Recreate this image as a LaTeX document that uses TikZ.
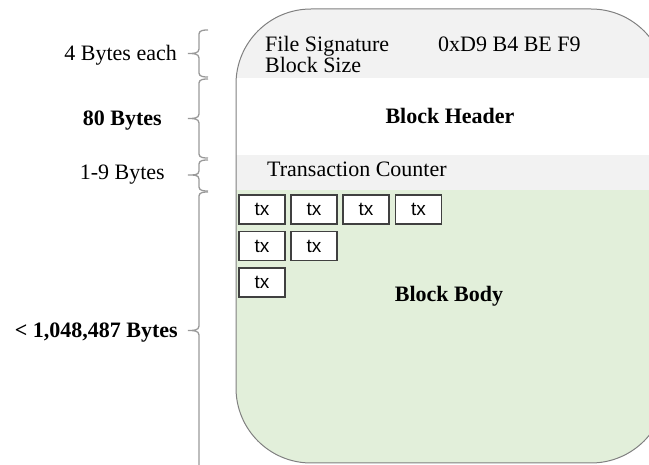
\documentclass[tikz,border=0pt]{standalone}
\usepackage{fontspec}
\setmainfont{Liberation Serif}
\newfontfamily\txfont{Liberation Sans}
\definecolor{bandgrey}{HTML}{F2F2F2}
\definecolor{bodygreen}{HTML}{E2EFDA}
\definecolor{outline}{HTML}{808080}
\definecolor{bracegrey}{HTML}{999999}
\definecolor{txborder}{HTML}{404040}
\begin{document}
\begin{tikzpicture}[x=1pt,y=-1pt,
  lbl/.style={inner sep=0pt,font=\fontsize{22}{26}\selectfont},
  blbl/.style={inner sep=0pt,font=\fontsize{22}{26}\selectfont\bfseries},
  txbox/.style={draw=txborder,fill=white,line width=1.2pt,minimum width=46pt,minimum height=29pt,inner sep=0pt,font=\txfont\fontsize{19}{22}\selectfont},
  bracepath/.style={draw=bracegrey,line width=1.3pt}]
\useasboundingbox (0,0) rectangle (649,465);
% block shape with bands
\begin{scope}
  \clip[rounded corners=75pt] (236,9) rectangle (666,463);
  \fill[bandgrey] (230,0) rectangle (670,78);
  \fill[white] (230,78) rectangle (670,155);
  \fill[bandgrey] (230,155) rectangle (670,190);
  \fill[bodygreen] (230,190) rectangle (670,470);
\end{scope}
\draw[outline,line width=1pt,rounded corners=75pt] (236,9) rectangle (666,463);
% texts inside
\node[lbl,anchor=base west] (fsig) at (265,52) {File Signature};
\node[lbl,anchor=base west] (magic) at (438,52) {0xD9 B4 BE F9};
\node[lbl,anchor=base west] (bsize) at (265,73) {Block Size};
\node[blbl,anchor=base] (bheader) at (450,124) {Block Header};
\node[lbl,anchor=base west] (tcount) at (267,177) {Transaction Counter};
\node[blbl,anchor=base] (bbody) at (449,302) {Block Body};
% tx boxes
\node[txbox] (tx11) at (262,209.5) {tx};
\node[txbox] (tx12) at (314,209.5) {tx};
\node[txbox] (tx13) at (366,209.5) {tx};
\node[txbox] (tx14) at (418.5,209.5) {tx};
\node[txbox] (tx21) at (262,246) {tx};
\node[txbox] (tx22) at (314,246) {tx};
\node[txbox] (tx31) at (262,282.5) {tx};
% braces
\draw[bracepath] (208,30) to[out=180,in=90] (199,34) -- (199,49) to[out=-90,in=0] (188,53.5)
  to[out=0,in=90] (199,58) -- (199,73) to[out=-90,in=180] (208,77);
\draw[bracepath] (208,79) to[out=180,in=90] (199,83) -- (199,114) to[out=-90,in=0] (188,118.5)
  to[out=0,in=90] (199,123) -- (199,154) to[out=-90,in=180] (208,158);
\draw[bracepath] (208,160) to[out=180,in=90] (199,164) -- (199,171) to[out=-90,in=0] (188,175)
  to[out=0,in=90] (199,179) -- (199,187) to[out=-90,in=180] (208,191);
\draw[bracepath] (208,192) to[out=180,in=90] (199,196) -- (199,326) to[out=-90,in=0] (188,330.5)
  to[out=0,in=90] (199,335) -- (199,466);
% left labels
\node[lbl,anchor=base east] (l1) at (177,61) {4 Bytes each};
\node[blbl,anchor=base east] (l2) at (162,126) {80 Bytes};
\node[lbl,anchor=base east] (l3) at (165,180) {1-9 Bytes};
\node[blbl,anchor=base east] (l4) at (178,338) {< 1,048,487 Bytes};
\end{tikzpicture}
\end{document}
